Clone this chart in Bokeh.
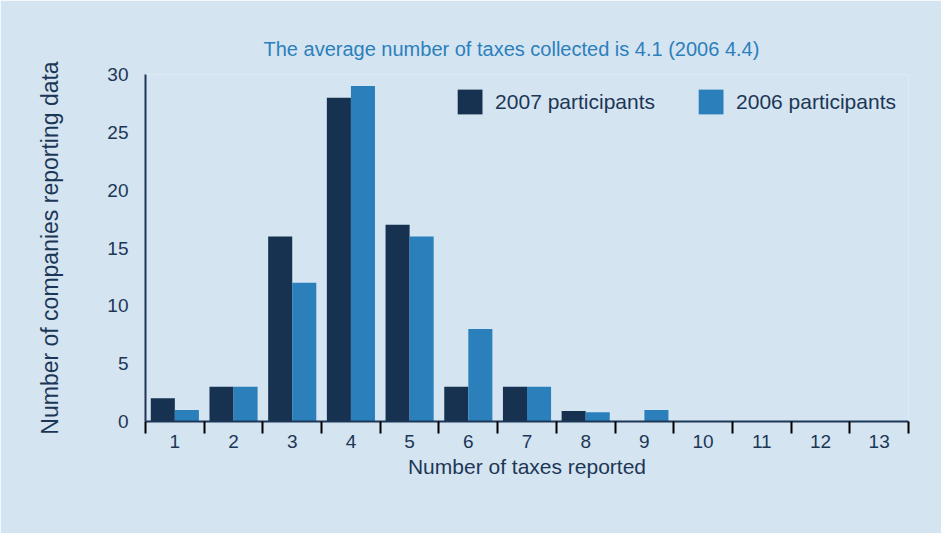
from bokeh.plotting import figure
from bokeh.models import Range1d, FixedTicker, Legend, LegendItem, ColumnDataSource
from bokeh.transform import dodge
from bokeh.embed import file_html
from bokeh.resources import INLINE

# ---- data ----
categories = [1, 2, 3, 4, 5, 6, 7, 8, 9, 10, 11, 12, 13]
tick_labels = ["1", "2", "3", "4", "5", "6", "7", "8", "9", "10", "11", "12", "13"]
participants_2007 = [2, 3, 16, 28, 17, 3, 3, 0.9, 0, 0, 0, 0, 0]
participants_2006 = [1, 3, 12, 29, 16, 8, 3, 0.8, 1, 0, 0, 0, 0]
y_ticks = [0, 5, 10, 15, 20, 25, 30]
series_names = ["2007 participants", "2006 participants"]
title_text = "The average number of taxes collected is 4.1 (2006 4.4)"

NAVY = "#173250"
BLUE = "#2b80bc"
BG = "#d5e4f1"
TXT = "#1c3756"
FONT = "Liberation Sans"

src = ColumnDataSource(dict(cat=categories, v07=participants_2007, v06=participants_2006))

p = figure(width=941, height=533, output_backend="svg", toolbar_location=None,
           x_range=Range1d(categories[0] - 0.5, categories[-1] + 0.5),
           y_range=Range1d(0, 30),
           min_border_left=145, min_border_right=33, min_border_top=74, min_border_bottom=112)
p.background_fill_color = BG
p.border_fill_color = BG
p.outline_line_color = None
p.grid.visible = False

p.title.text = title_text
p.title.text_font = FONT
p.title.text_font_size = "20px"
p.title.text_font_style = "normal"
p.title.text_color = BLUE
p.title.align = "left"
p.title.vertical_align = "top"
p.title.offset = 118
p.title.standoff = 25

bar_w = 0.41
r07 = p.vbar(x=dodge("cat", -bar_w / 2, range=p.x_range), top="v07", width=bar_w, bottom=0,
             source=src, fill_color=NAVY, line_color=None)
r06 = p.vbar(x=dodge("cat", bar_w / 2, range=p.x_range), top="v06", width=bar_w, bottom=0,
             source=src, fill_color=BLUE, line_color=None)

# x axis
xa = p.xaxis[0]
xa.ticker = FixedTicker(ticks=categories, minor_ticks=[c + 0.5 for c in [categories[0] - 1] + categories])
xa.major_label_overrides = {c: t for c, t in zip(categories, tick_labels)}
xa.major_tick_out = 0
xa.major_tick_in = 0
xa.minor_tick_out = 12
xa.minor_tick_in = 0
xa.minor_tick_line_color = "black"
xa.minor_tick_line_width = 2
xa.axis_line_color = TXT
xa.axis_line_width = 2
xa.major_label_text_font = FONT
xa.major_label_text_font_size = "19px"
xa.major_label_text_color = TXT
xa.major_label_standoff = 1
xa.axis_label = "Number of taxes reported"
xa.axis_label_text_font = FONT
xa.axis_label_text_font_size = "21px"
xa.axis_label_text_font_style = "normal"
xa.axis_label_text_color = TXT
xa.axis_label_standoff = 4

# y axis
ya = p.yaxis[0]
ya.ticker = FixedTicker(ticks=y_ticks)
ya.major_tick_out = 0
ya.major_tick_in = 0
ya.minor_tick_out = 0
ya.minor_tick_in = 0
ya.axis_line_color = TXT
ya.axis_line_width = 2
ya.major_label_text_font = FONT
ya.major_label_text_font_size = "19px"
ya.major_label_text_color = TXT
ya.major_label_standoff = 17
ya.axis_label = "Number of companies reporting data"
ya.axis_label_text_font = FONT
ya.axis_label_text_font_size = "23px"
ya.axis_label_text_font_style = "normal"
ya.axis_label_text_color = TXT
ya.axis_label_standoff = 41

legend = Legend(items=[LegendItem(label=series_names[0], renderers=[r07]),
                       LegendItem(label=series_names[1], renderers=[r06])],
                orientation="horizontal", location="top_right",
                glyph_width=31, glyph_height=31, label_standoff=10, spacing=40,
                padding=0, margin=12, border_line_color=None, background_fill_alpha=0,
                label_text_font=FONT, label_text_font_size="21px", label_text_color=TXT,
                label_height=31)
p.add_layout(legend, "center")

open("out.html", "w").write(file_html(p, INLINE))
